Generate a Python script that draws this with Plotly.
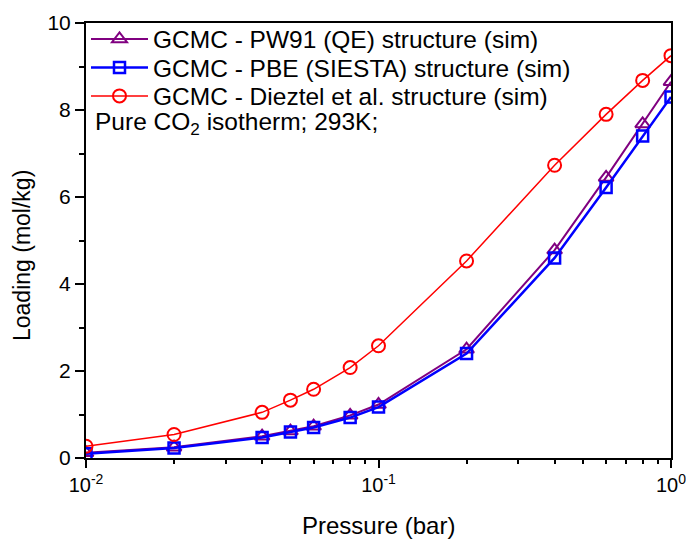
import plotly.graph_objects as go

pressure = [0.01, 0.02, 0.04, 0.05, 0.06, 0.08, 0.1, 0.2, 0.4, 0.6, 0.8, 1.0]
pw91_qe = [0.12, 0.25, 0.50, 0.62, 0.73, 0.98, 1.23, 2.50, 4.78, 6.45, 7.68, 8.65]
pbe_siesta = [0.10, 0.23, 0.47, 0.60, 0.70, 0.93, 1.17, 2.40, 4.60, 6.22, 7.40, 8.30]
dieztel = [0.27, 0.54, 1.05, 1.33, 1.58, 2.08, 2.58, 4.53, 6.73, 7.90, 8.68, 9.25]

names = ["GCMC - PW91 (QE) structure (sim)",
         "GCMC - PBE (SIESTA) structure (sim)",
         "GCMC - Dieztel et al. structure (sim)"]

x_tickvals = [0.01, 0.1, 1.0]
x_ticktext = ["10<sup>-2</sup>", "10<sup>-1</sup>", "10<sup>0</sup>"]
x_minor = [0.02, 0.03, 0.04, 0.05, 0.06, 0.07, 0.08, 0.09,
           0.2, 0.3, 0.4, 0.5, 0.6, 0.7, 0.8, 0.9]
y_tickvals = [0, 2, 4, 6, 8, 10]
y_minor = [1, 3, 5, 7, 9]

FONT = "Arial, 'Liberation Sans', sans-serif"
LEG_FONT = 24.5

fig = go.Figure()
fig.add_trace(go.Scatter(
    x=pressure, y=pw91_qe, name=names[0], mode="lines+markers", legend="legend",
    line=dict(color="#800080", width=2),
    marker=dict(symbol="triangle-up-open", size=13, color="#800080", line=dict(width=2))))
fig.add_trace(go.Scatter(
    x=pressure, y=pbe_siesta, name=names[1], mode="lines+markers", legend="legend2",
    line=dict(color="#0000FF", width=2.5),
    marker=dict(symbol="square-open", size=11, color="#0000FF", line=dict(width=2.5))))
fig.add_trace(go.Scatter(
    x=pressure, y=dieztel, name=names[2], mode="lines+markers", legend="legend3",
    line=dict(color="#FF0000", width=1.5),
    marker=dict(symbol="circle-open", size=13, color="#FF0000", line=dict(width=2))))


def leg(ypix):
    return dict(x=0, y=(458 - ypix) / 435, xanchor="left", yanchor="middle",
                bgcolor="rgba(0,0,0,0)", font=dict(size=LEG_FONT),
                tracegroupgap=0, itemwidth=57)


fig.update_layout(
    width=686, height=539,
    margin=dict(l=86, r=15, t=23, b=81, autoexpand=False),
    plot_bgcolor="white", paper_bgcolor="white",
    font=dict(family=FONT, color="black", size=20),
    showlegend=True,
    legend=leg(39), legend2=leg(67.5), legend3=leg(96),
    xaxis=dict(type="log", range=[-2, 0],
               tickvals=x_tickvals, ticktext=x_ticktext,
               ticklabeloverflow="allow", automargin=False,
               ticks="outside", ticklen=8, tickwidth=2, tickcolor="black",
               minor=dict(tickvals=x_minor, ticks="outside", ticklen=4,
                          tickwidth=2, tickcolor="black"),
               showline=True, linewidth=2, linecolor="black", mirror=True,
               showgrid=False, zeroline=False,
               tickfont=dict(size=20)),
    yaxis=dict(range=[0, 10], tickvals=y_tickvals, automargin=False,
               ticks="outside", ticklen=9, tickwidth=2, tickcolor="black",
               minor=dict(tickvals=y_minor, ticks="outside", ticklen=5,
                          tickwidth=2, tickcolor="black"),
               showline=True, linewidth=2, linecolor="black", mirror=True,
               showgrid=False, zeroline=False,
               tickfont=dict(size=21)),
    annotations=[
        dict(text="Pressure (bar)", xref="paper", yref="paper", x=0.5, y=0,
             xanchor="center", yanchor="middle", yshift=-67, showarrow=False,
             font=dict(size=24)),
        dict(text="Loading (mol/kg)", xref="paper", yref="paper", x=0, y=(458 - 256) / 435,
             xanchor="center", yanchor="middle", xshift=-64, textangle=-90,
             showarrow=False, font=dict(size=23)),
        dict(text="Pure CO<sub>2</sub> isotherm; 293K;", xref="paper", yref="paper",
             x=0.012, y=(458 - 124) / 435, xanchor="left", yanchor="middle",
             showarrow=False, font=dict(size=LEG_FONT)),
    ],
)

fig.write_html("out.html")
